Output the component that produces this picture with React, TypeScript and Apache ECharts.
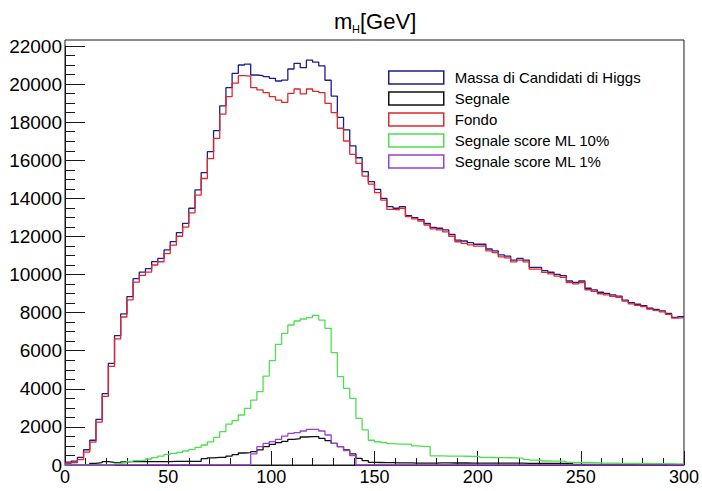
import React, { useEffect, useRef } from "react";
import * as echarts from "echarts";

// Histogram binning (x in GeV)
const BIN_WIDTH = 3;
const X_MIN = 0;
const X_MAX = 300;
const X_TICK_STEP = 50;
// y-axis range of the frame and labelled ticks
const Y_FRAME_MAX = 22312;
const Y_TICK_MAX = 22000;
const Y_TICK_STEP = 2000;

const seriesNames = [
  "Massa di Candidati di Higgs",
  "Segnale",
  "Fondo",
  "Segnale score ML 10%",
  "Segnale score ML 1%",
];
const seriesColors = ["#1c1c8c", "#111111", "#e3262b", "#4fe04f", "#9a3fd2"];

// Bin contents (100 bins of 3 GeV)
const massaCandidati = [
  150, 200, 400, 800, 1300, 2400, 3750, 5340, 6790, 7930,
  8840, 9780, 10130, 10310, 10680, 10850, 11290, 11730, 12200, 12690,
  13480, 14440, 15350, 16450, 17550, 18850, 19810, 20560, 21000, 21050,
  20475, 20440, 20390, 20300, 20160, 20210, 20790, 21090, 20860, 21260,
  21150, 20950, 20200, 19370, 18250, 17590, 16750, 16130, 15400, 14880,
  14470, 14000, 13560, 13480, 13560, 13090, 12990, 12880, 12690, 12470,
  12430, 12340, 12110, 11810, 11760, 11670, 11590, 11600, 11340, 11240,
  11030, 10970, 10760, 10850, 10760, 10380, 10380, 10200, 10120, 10010,
  9940, 9660, 9590, 9660, 9280, 9190, 9070, 9010, 8930, 8870,
  8660, 8520, 8440, 8370, 8230, 8170, 8090, 7960, 7750, 7790,
];

const segnale = [
  0, 0, 0, 0, 90, 120, 175, 140, 120, 160,
  175, 175, 175, 175, 175, 175, 175, 190, 190, 190,
  190, 190, 330, 370, 400, 400, 470, 540, 630, 650,
  700, 790, 960, 1085, 1170, 1240, 1350, 1380, 1470, 1490,
  1490, 1400, 1280, 1140, 960, 790, 580, 350, 230, 140,
  130, 120, 120, 110, 110, 110, 100, 100, 100, 100,
  110, 110, 105, 105, 105, 100, 100, 100, 100, 100,
  95, 95, 95, 95, 90, 90, 90, 85, 85, 85,
  80, 80, 30, 30, 30, 25, 25, 25, 25, 20,
  20, 20, 20, 15, 15, 15, 15, 10, 10, 10,
];

const fondo = [
  80, 120, 280, 680, 1200, 2250, 3600, 5180, 6620, 7770,
  8670, 9600, 9950, 10130, 10500, 10670, 11100, 11540, 12010, 12490,
  13240, 14170, 15040, 16080, 17150, 18420, 19340, 20050, 20440, 20420,
  19810, 19690, 19550, 19340, 19160, 19040, 19510, 19740, 19480, 19740,
  19620, 19550, 18990, 18500, 17680, 17010, 16310, 15840, 15170, 14750,
  14300, 13910, 13420, 13390, 13480, 13040, 12920, 12810, 12600, 12400,
  12340, 12240, 12010, 11720, 11640, 11560, 11490, 11500, 11240, 11150,
  10930, 10870, 10660, 10760, 10660, 10280, 10280, 10110, 10030, 9920,
  9850, 9570, 9510, 9580, 9200, 9110, 8990, 8930, 8860, 8800,
  8600, 8460, 8380, 8310, 8180, 8120, 8040, 7910, 7710, 7740,
];

const segnaleML10 = [
  0, 0, 0, 0, 0, 0, 0, 0, 90, 120,
  190, 230, 260, 315, 385, 470, 560, 610, 665, 735,
  820, 930, 1050, 1210, 1450, 1750, 2150, 2330, 2625, 2975,
  3410, 3850, 4670, 5480, 6335, 6910, 7350, 7560, 7665, 7735,
  7860, 7610, 7175, 5900, 4640, 4025, 3500, 2450, 1840, 1300,
  1220, 1180, 1120, 1100, 1100, 1080, 1000, 980, 960, 480,
  475, 470, 470, 465, 460, 455, 450, 400, 395, 390,
  385, 380, 370, 360, 300, 260, 250, 210, 200, 200,
  190, 140, 140, 130, 130, 120, 100, 95, 95, 90,
  90, 85, 80, 80, 75, 70, 70, 65, 60, 60,
];

const segnaleML1 = [
  0, 0, 0, 0, 0, 0, 0, 0, 0, 0,
  0, 0, 0, 0, 0, 0, 0, 0, 0, 0,
  0, 0, 0, 0, 0, 0, 0, 0, 0, 0,
  580, 960, 1140, 1225, 1350, 1520, 1660, 1700, 1785, 1870,
  1870, 1785, 1575, 1140, 960, 750, 490, 0, 0, 0,
  0, 0, 0, 0, 0, 0, 0, 0, 0, 0,
  0, 0, 0, 0, 0, 0, 0, 0, 0, 0,
  0, 0, 0, 0, 0, 0, 0, 0, 0, 0,
  0, 0, 0, 0, 0, 0, 0, 0, 0, 0,
  0, 0, 0, 0, 0, 0, 0, 0, 0, 0,
];

const seriesValues = [massaCandidati, segnale, fondo, segnaleML10, segnaleML1];

const FONT = "'Liberation Sans', Arial, Helvetica, sans-serif";

function toSteps(values: number[]): number[][] {
  const pts = values.map((v, i) => [X_MIN + i * BIN_WIDTH, v]);
  pts.push([X_MAX, values[values.length - 1]]);
  return pts;
}

export default function App() {
  const ref = useRef<HTMLDivElement>(null);

  useEffect(() => {
    if (!ref.current) return;
    const chart = echarts.init(ref.current, null, { renderer: "svg" });
    const axisColor = "#1a1a1a";

    const option: any = {
      animation: false,
      backgroundColor: "#ffffff",
      textStyle: { fontFamily: FONT },
      graphic: [
        {
          type: "text",
          left: 334,
          top: 10,
          style: { text: "m", fontSize: 22, fontFamily: FONT, fill: "#000" },
        },
        {
          type: "text",
          left: 352,
          top: 23,
          style: { text: "H", fontSize: 11, fontFamily: FONT, fill: "#000" },
        },
        {
          type: "text",
          left: 360,
          top: 10,
          style: { text: "[GeV]", fontSize: 22, fontFamily: FONT, fill: "#000" },
        },
      ],
      grid: [
        {
          left: 65,
          right: 14,
          top: 40,
          bottom: 26,
          show: true,
          borderColor: axisColor,
          borderWidth: 1,
          backgroundColor: "transparent",
        },
        { left: 65, right: 14, top: 46, bottom: 26 },
      ],
      xAxis: [
        {
          type: "value",
          gridIndex: 0,
          min: X_MIN,
          max: X_MAX,
          interval: X_TICK_STEP,
          axisLine: { show: true, onZero: false, lineStyle: { color: axisColor, width: 1 } },
          axisTick: { show: true, inside: true, length: 14, lineStyle: { color: axisColor, width: 1 } },
          minorTick: { show: true, splitNumber: 5, length: 7, lineStyle: { color: axisColor, width: 1 } },
          splitLine: { show: false },
          axisLabel: {
            color: "#000",
            fontSize: 18,
            margin: 3,
            fontFamily: FONT,
            formatter: (v: number) => String(v),
          },
        },
        { type: "value", gridIndex: 1, min: X_MIN, max: X_MAX, show: false },
      ],
      yAxis: [
        {
          type: "value",
          gridIndex: 0,
          min: 0,
          max: Y_FRAME_MAX,
          show: false,
          splitLine: { show: false },
        },
        {
          type: "value",
          gridIndex: 1,
          min: 0,
          max: Y_TICK_MAX,
          interval: Y_TICK_STEP,
          axisLine: { show: true, onZero: false, lineStyle: { color: axisColor, width: 1 } },
          axisTick: { show: true, inside: true, length: 20, lineStyle: { color: axisColor, width: 1 } },
          minorTick: { show: true, splitNumber: 4, length: 10, lineStyle: { color: axisColor, width: 1 } },
          splitLine: { show: false },
          axisLabel: {
            color: "#000",
            fontSize: 19,
            margin: 3,
            fontFamily: FONT,
            formatter: (v: number) => String(v),
          },
        },
      ],
      legend: {
        orient: "vertical",
        left: 388,
        top: 70,
        padding: 0,
        itemWidth: 55,
        itemHeight: 13,
        itemGap: 6,
        selectedMode: false,
        textStyle: {
          fontSize: 15,
          lineHeight: 13,
          color: "#000",
          fontFamily: FONT,
          padding: [0, 0, 0, 6],
        },
        data: seriesNames.map((n, i) => ({
          name: n,
          icon: "rect",
          itemStyle: { color: "#ffffff", borderColor: seriesColors[i], borderWidth: 1.5 },
        })),
      },
      series: seriesNames.map((n, i) => ({
        name: n,
        type: "line",
        step: "end",
        xAxisIndex: 0,
        yAxisIndex: 0,
        symbol: "none",
        clip: true,
        itemStyle: { color: seriesColors[i] },
        lineStyle: { color: seriesColors[i], width: 1.3 },
        data: toSteps(seriesValues[i]),
      })),
    };

    chart.setOption(option);
    return () => chart.dispose();
  }, []);

  return (
    <div
      ref={ref}
      style={{ position: "fixed", left: 0, top: 0, width: 702, height: 491, background: "#fff" }}
    />
  );
}
